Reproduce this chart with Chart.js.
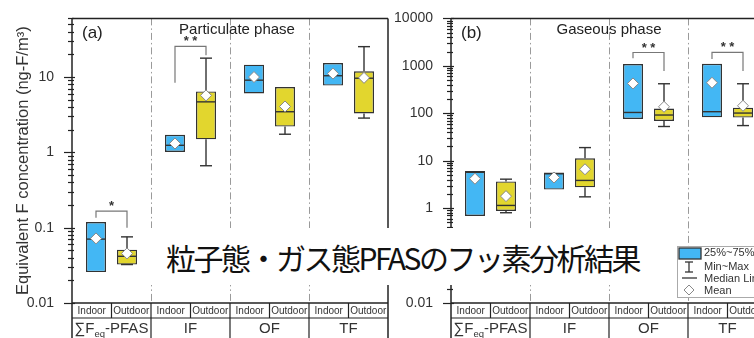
<!DOCTYPE html>
<html>
<head>
<meta charset="utf-8">
<script src="https://cdn.jsdelivr.net/npm/chart.js@4.4.1/dist/chart.umd.min.js"></script>
<style>
  html, body { margin: 0; padding: 0; background: #fff; }
  #wrap { position: relative; width: 754px; height: 338px; overflow: hidden; }
  #pa { position: absolute; left: 0; top: 0; }
  #pb { position: absolute; left: 390px; top: 0; }
  #caption {
    position: absolute; left: 145px; top: 228px; width: 515px; height: 57px;
    background: #fff; display: flex; align-items: center; justify-content: center;
    font-family: "Noto Sans CJK JP", sans-serif; font-size: 30px; letter-spacing: -2.5px;
    color: #111; white-space: nowrap;
  }
</style>
</head>
<body>
<div id="wrap">
  <canvas id="pa" width="400" height="338"></canvas>
  <canvas id="pb" width="400" height="338"></canvas>
  <div id="caption">粒子態・ガス態PFASのフッ素分析結果</div>
</div>
<script>
// ---- data (ng-F/m3) ----
const groupNames = ['∑Feq-PFAS', 'IF', 'OF', 'TF'];
const groupLabelParts = [['∑F', 'eq', '-PFAS'], ['IF'], ['OF'], ['TF']];
const sites = ['Indoor', 'Outdoor'];

// each entry: [min, q1, median, q3, max]
const particulateIndoor = [
  [0.0257, 0.0257, 0.0705, 0.119, 0.119],
  [1.01, 1.01, 1.24, 1.71, 1.71],
  [6.05, 6.05, 9.08, 14.6, 14.6],
  [7.7, 7.7, 10.4, 15.3, 15.3]
];
const particulateOutdoor = [
  [0.0324, 0.0324, 0.0417, 0.051, 0.0755],
  [0.664, 1.49, 4.68, 6.44, 17.8],
  [1.74, 2.2, 3.46, 7.35, 7.35],
  [2.85, 3.28, 9.64, 11.9, 25.3]
];
const particulateIndoorMean = [0.072, 1.31, 10.0, 11.1];
const particulateOutdoorMean = [0.0455, 5.7, 4.06, 9.75];

const gaseousIndoor = [
  [0.686, 0.686, 5.7, 6.1, 6.1],
  [2.46, 2.46, 5.3, 5.64, 5.64],
  [75.7, 75.7, 104, 1090, 1090],
  [82, 82, 108, 1106, 1106]
];
const gaseousOutdoor = [
  [0.80, 0.87, 1.14, 3.66, 4.08],
  [1.73, 2.75, 3.84, 11.2, 18.9],
  [52.6, 68.8, 91.8, 126, 419],
  [55, 81, 101, 131, 419]
];
const gaseousIndoorMean = [4.17, 4.43, 425, 440];
const gaseousOutdoorMean = [1.79, 6.6, 137, 144];

// significance brackets: group index, mark, [indoor leg end, bracket top, outdoor leg end]
const particulateSigGroups = [0, 1];
const particulateSigMarks = ['*', '* *'];
const particulateSigLevels = [[0.135, 0.1655, 0.1], [8.4, 25.5, 19.5]];
const gaseousSigGroups = [2, 3];
const gaseousSigMarks = ['* *', '* *'];
const gaseousSigLevels = [[1452, 1910, 780], [1400, 1920, 780]];

const yTicksParticulate = { min: 0.01, max: 60 };
const yTicksGaseous = { min: 0.01, max: 10000 };

const legendLabels = ['25%~75%', 'Min~Max', 'Median Line', 'Mean'];

// ---- styling ----
const FONT = "'Liberation Sans', Arial, sans-serif";
const BLUE = '#43b7f4';
const YELLOW = '#e2d62e';
const INK = '#333';

function seg(ctx, x1, y1, x2, y2) {
  ctx.beginPath(); ctx.moveTo(x1, y1); ctx.lineTo(x2, y2); ctx.stroke();
}
function diamond(ctx, cx, cy, r) {
  ctx.beginPath();
  ctx.moveTo(cx, cy - r); ctx.lineTo(cx + r, cy); ctx.lineTo(cx, cy + r); ctx.lineTo(cx - r, cy);
  ctx.closePath();
  ctx.fillStyle = '#fff'; ctx.fill();
  ctx.strokeStyle = '#888'; ctx.lineWidth = 1; ctx.stroke();
}
function decadeLabel(v) {
  const lg = Math.log10(v), e = Math.round(lg);
  if (Math.abs(lg - e) > 1e-6) return '';
  return e < 0 ? Math.pow(10, e).toFixed(-e) : String(Math.pow(10, e));
}

function decorPlugin(p) {
  return {
    id: 'boxDecor',
    beforeDatasetsDraw(chart) {
      const { ctx, chartArea: { left, right, top, bottom } } = chart;
      const n = groupNames.length, w = (right - left) / n;
      ctx.save();
      ctx.strokeStyle = '#9a9a9a'; ctx.lineWidth = 1;
      ctx.setLineDash([7, 3, 1.5, 3]);
      for (let i = 1; i < n; i++) {
        const x = Math.round(left + i * w) + 0.5;
        seg(ctx, x, top, x, bottom);
      }
      ctx.restore();
    },
    afterDatasetsDraw(chart) {
      const { ctx, chartArea: { left, right, top, bottom }, scales: { y } } = chart;
      const H = chart.height;
      const n = groupNames.length, w = (right - left) / n;
      const py = v => y.getPixelForValue(v);
      ctx.save();

      // whiskers, medians, means
      [[p.indoor, p.indoorMean], [p.outdoor, p.outdoorMean]].forEach(([boxes, means], di) => {
        const meta = chart.getDatasetMeta(di);
        boxes.forEach((b, j) => {
          const el = meta.data[j];
          const cx = el.x, bw = el.width, cap = 6;
          const [mn, q1, md, q3, mx] = b;
          ctx.strokeStyle = INK; ctx.lineWidth = 1.4;
          if (mx > q3 * 1.001) {
            seg(ctx, cx, py(q3), cx, py(mx));
            seg(ctx, cx - cap, py(mx), cx + cap, py(mx));
          }
          if (mn < q1 * 0.999) {
            seg(ctx, cx, py(q1), cx, py(mn));
            seg(ctx, cx - cap, py(mn), cx + cap, py(mn));
          } else if (mx > q3 * 1.001) {
            seg(ctx, cx - cap, py(mn), cx + cap, py(mn));
          }
          seg(ctx, cx - bw / 2, py(md), cx + bw / 2, py(md));
          diamond(ctx, cx, py(means[j]), 5.5);
        });
      });

      // significance brackets
      const m0 = chart.getDatasetMeta(0), m1 = chart.getDatasetMeta(1);
      p.sigGroups.forEach((g, k) => {
        const xa = m0.data[g].x, xb = m1.data[g].x;
        const [la, lt, lb] = p.sigLevels[k];
        ctx.strokeStyle = '#777'; ctx.lineWidth = 1.2;
        ctx.beginPath();
        ctx.moveTo(xa, py(la)); ctx.lineTo(xa, py(lt)); ctx.lineTo(xb, py(lt)); ctx.lineTo(xb, py(lb));
        ctx.stroke();
        ctx.fillStyle = INK; ctx.font = 'bold 13px ' + FONT;
        ctx.textAlign = 'center'; ctx.textBaseline = 'alphabetic';
        ctx.fillText(p.sigMarks[k], (xa + xb) / 2, py(lt) - 1);
      });

      // frame
      ctx.strokeStyle = '#222'; ctx.lineWidth = 1.5;
      seg(ctx, left, top, left, H);
      seg(ctx, left, top, right, top);
      seg(ctx, right, top, right, H);
      seg(ctx, left, bottom, right, bottom);

      // log ticks
      ctx.lineWidth = 1.2;
      const dLo = Math.floor(Math.log10(y.min)), dHi = Math.ceil(Math.log10(y.max));
      for (let d = dLo; d <= dHi; d++) {
        for (let k = 1; k <= 9; k++) {
          const v = k * Math.pow(10, d);
          if (v < y.min * 0.999 || v > y.max * 1.001) continue;
          const yy = Math.round(py(v)) + 0.5;
          if (k === 1) seg(ctx, left - 8, yy, left + 3, yy);
          else seg(ctx, left - 4, yy, left + 2, yy);
        }
      }

      // category table below the axis
      const y1 = bottom, y2 = bottom + 15;
      ctx.strokeStyle = '#222'; ctx.lineWidth = 1.2;
      seg(ctx, left, y2, right, y2);
      ctx.fillStyle = INK; ctx.textAlign = 'center'; ctx.textBaseline = 'middle';
      for (let i = 0; i < n; i++) {
        const gx = left + i * w;
        seg(ctx, gx + w / 2, y1, gx + w / 2, y2);
        if (i > 0) seg(ctx, gx, y1, gx, H);
        ctx.font = '10px ' + FONT;
        ctx.fillText(sites[0], gx + w / 4, (y1 + y2) / 2 + 0.5);
        ctx.fillText(sites[1], gx + 3 * w / 4, (y1 + y2) / 2 + 0.5);
        // group label (with subscript part)
        const parts = groupLabelParts[i];
        const fMain = '15px ' + FONT, fSub = '9.5px ' + FONT;
        const widths = parts.map((t, pi) => { ctx.font = pi === 1 ? fSub : fMain; return ctx.measureText(t).width; });
        let tx = gx + w / 2 - widths.reduce((a, b) => a + b, 0) / 2;
        const ty = (y2 + H) / 2 + 1;
        ctx.textAlign = 'left';
        parts.forEach((t, pi) => {
          ctx.font = pi === 1 ? fSub : fMain;
          ctx.fillText(t, tx, pi === 1 ? ty + 5 : ty);
          tx += widths[pi];
        });
        ctx.textAlign = 'center';
      }

      // panel tag and phase title
      ctx.fillStyle = '#222'; ctx.textBaseline = 'middle';
      ctx.font = '17px ' + FONT; ctx.textAlign = 'left';
      ctx.fillText(p.tag, left + 10, top + 15);
      ctx.font = '15px ' + FONT; ctx.textAlign = 'center';
      ctx.fillText(p.title, left + 2 * w + p.titleShift, top + 11);

      // legend
      if (p.legend) {
        const lx = left + 226, ly = bottom - 57;
        ctx.fillStyle = '#fff'; ctx.fillRect(lx, ly, 110, 51);
        ctx.strokeStyle = '#aaa'; ctx.lineWidth = 1; ctx.strokeRect(lx + 0.5, ly + 0.5, 110, 51);
        ctx.fillStyle = BLUE; ctx.fillRect(lx + 2, ly + 2, 22, 11);
        ctx.strokeStyle = INK; ctx.lineWidth = 1.3; ctx.strokeRect(lx + 2, ly + 2, 22, 11);
        const ix = lx + 12;
        seg(ctx, ix, ly + 16, ix, ly + 26);
        seg(ctx, ix - 4, ly + 16, ix + 4, ly + 16);
        seg(ctx, ix - 4, ly + 26, ix + 4, ly + 26);
        seg(ctx, lx + 5, ly + 32, lx + 20, ly + 32);
        diamond(ctx, ix, ly + 44, 5);
        ctx.fillStyle = INK; ctx.font = '11px ' + FONT; ctx.textAlign = 'left'; ctx.textBaseline = 'middle';
        [7, 21, 33, 45].forEach((dy, k) => ctx.fillText(legendLabels[k], lx + 27, ly + dy));
      }
      ctx.restore();
    }
  };
}

function makePanel(canvasId, p) {
  const barStyle = { borderColor: INK, borderWidth: 1.4, borderSkipped: false,
                     categoryPercentage: 0.785, barPercentage: 0.645 };
  return new Chart(document.getElementById(canvasId), {
    type: 'bar',
    data: {
      labels: groupNames,
      datasets: [
        Object.assign({ label: sites[0], data: p.indoor.map(b => [b[1], b[3]]), backgroundColor: BLUE }, barStyle),
        Object.assign({ label: sites[1], data: p.outdoor.map(b => [b[1], b[3]]), backgroundColor: YELLOW }, barStyle)
      ]
    },
    options: {
      responsive: false,
      animation: false,
      events: [],
      layout: { padding: { left: 0, right: p.padRight, top: 14, bottom: 35 } },
      plugins: { legend: { display: false }, tooltip: { enabled: false } },
      scales: {
        x: { display: false, offset: true },
        y: {
          type: 'logarithmic',
          min: p.range.min, max: p.range.max,
          afterFit: s => { s.width = p.axisWidth; },
          grid: { display: false },
          border: { display: false },
          ticks: {
            autoSkip: false, padding: 10, color: INK,
            font: { family: FONT, size: 14 },
            callback: v => decadeLabel(v)
          },
          title: {
            display: !!p.yTitle, text: p.yTitle || '', color: INK,
            font: { family: FONT, size: 16.5 }, padding: { top: 14, bottom: 0 }
          }
        }
      }
    },
    plugins: [decorPlugin(p)]
  });
}

makePanel('pa', {
  indoor: particulateIndoor, outdoor: particulateOutdoor,
  indoorMean: particulateIndoorMean, outdoorMean: particulateOutdoorMean,
  sigGroups: particulateSigGroups, sigMarks: particulateSigMarks, sigLevels: particulateSigLevels,
  range: yTicksParticulate, axisWidth: 72, padRight: 12,
  tag: '(a)', title: 'Particulate phase', titleShift: 7,
  yTitle: 'Equivalent F concentration (ng-F/m³)', legend: false
});
makePanel('pb', {
  indoor: gaseousIndoor, outdoor: gaseousOutdoor,
  indoorMean: gaseousIndoorMean, outdoorMean: gaseousOutdoorMean,
  sigGroups: gaseousSigGroups, sigMarks: gaseousSigMarks, sigLevels: gaseousSigLevels,
  range: yTicksGaseous, axisWidth: 61, padRight: 23,
  tag: '(b)', title: 'Gaseous phase', titleShift: 0,
  yTitle: null, legend: true
});
</script>
</body>
</html>
